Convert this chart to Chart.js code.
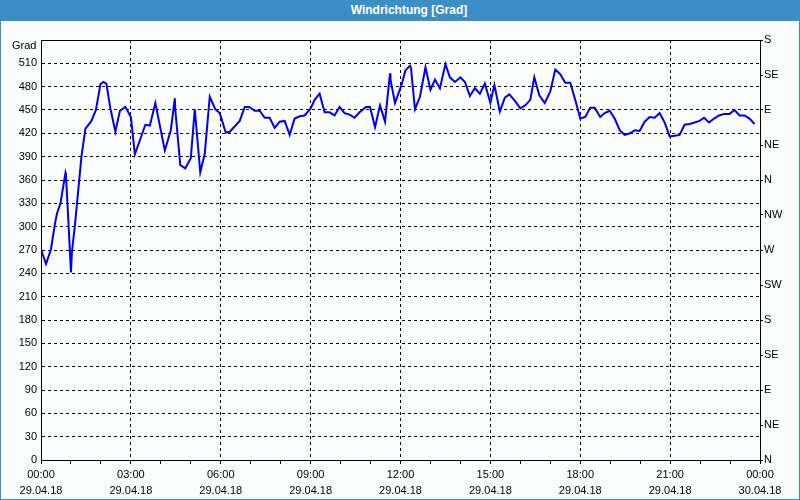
<!DOCTYPE html>
<html>
<head>
<meta charset="utf-8">
<script src="https://cdn.jsdelivr.net/npm/chart.js@4/dist/chart.umd.min.js"></script>
<style>
  html, body { margin: 0; padding: 0; background: #fbfdfc; }
  #wrap { position: relative; width: 800px; height: 500px; background: #fbfdfc; overflow: hidden; }
  #c { position: absolute; left: 0; top: 0; }
  #titlebar { position: absolute; left: 0; top: 0; width: 800px; height: 21px; background: #3c8fc6; }
  #title { position: absolute; left: 0; width: 818px; top: 3px; text-align: center; color: #fff;
           font: bold 12px "Liberation Sans", Arial, sans-serif; }
  #unit { position: absolute; left: 12px; top: 39px; color: #000; font: 11px "Liberation Sans", Arial, sans-serif; }
  #frame { position: absolute; left: 0; top: 0; width: 800px; height: 500px; box-sizing: border-box;
           border: 1px solid #3c8fc6; pointer-events: none; }
</style>
</head>
<body>
<div id="wrap">
  <canvas id="c" width="800" height="500"></canvas>
  <div id="titlebar"></div>
  <div id="title">Windrichtung [Grad]</div>
  <div id="unit">Grad</div>
  <div id="frame"></div>
</div>
<script>
// time of each reading, minutes after 29.04.18 00:00
const minutes = [0,10,20,28,32,39,49,50,56,60,62,68,76,81,89,101,110,119,125,131,139,149,158,169,180,188,209,218,229,248,260,268,269,279,289,300,308,319,328,338,349,358,370,378,398,408,417,428,438,448,458,468,478,488,498,508,518,528,540,548,558,568,578,588,598,608,618,628,638,651,659,669,679,689,699,700,709,718,723,730,739,741,749,759,770,780,789,799,810,819,829,840,849,859,869,879,889,900,908,919,929,938,950,960,970,980,988,998,1009,1020,1030,1040,1050,1060,1070,1080,1090,1100,1109,1120,1129,1139,1149,1159,1169,1180,1189,1199,1209,1219,1229,1239,1249,1259,1269,1279,1289,1299,1309,1319,1328,1338,1348,1358,1368,1379,1389,1399,1409,1419,1429];
// wind direction in degrees (continuous, > 360 wraps)
const windDir = [271,252,271,304,317,330,369,366,293,241,268,302,356,390,426,436,450,483,486,484,452,422,449,454,441,393,431,430,459,398,424,465,450,379,375,388,451,370,394,467,451,446,421,422,436,454,454,449,449,440,440,427,435,436,418,439,442,443,452,463,471,447,447,443,454,446,444,440,447,454,454,428,456,435,497,489,459,475,484,501,507,504,451,467,505,476,489,478,509,492,486,492,486,468,478,471,484,459,482,448,466,470,461,452,456,463,492,469,459,474,502,496,485,485,463,439,441,453,453,441,446,449,439,424,418,420,424,423,435,441,440,446,434,416,417,418,431,432,434,436,440,434,439,443,445,445,450,443,443,439,432];

const xTickTimes = ['00:00','03:00','06:00','09:00','12:00','15:00','18:00','21:00','00:00'];
const xTickDates = ['29.04.18','29.04.18','29.04.18','29.04.18','29.04.18','29.04.18','29.04.18','29.04.18','30.04.18'];
const compassLabels = ['N','NE','E','SE','S','SW','W','NW','N','NE','E','SE','S'];

const FONT = { family: '"Liberation Sans", Arial, sans-serif', size: 11 };

const framePlugin = {
  id: 'frame',
  afterDraw(chart) {
    const a = chart.chartArea, ctx = chart.ctx;
    ctx.save();
    ctx.strokeStyle = '#000';
    ctx.lineWidth = 1;
    ctx.setLineDash([]);
    ctx.beginPath();
    ctx.moveTo(Math.round(a.left) + 0.5, Math.round(a.top) + 0.5);
    ctx.lineTo(Math.round(a.right) + 0.5, Math.round(a.top) + 0.5);
    ctx.stroke();
    ctx.restore();
  }
};

new Chart(document.getElementById('c'), {
  type: 'line',
  data: {
    datasets: [{
      data: minutes.map((m, i) => ({ x: m, y: windDir[i] })),
      borderColor: '#0000f0',
      borderWidth: 2,
      pointRadius: 0,
      tension: 0,
      fill: false,
      yAxisID: 'y'
    }]
  },
  options: {
    responsive: false,
    animation: false,
    layout: { padding: { top: 40, left: 0, right: 0, bottom: 0 } },
    plugins: { legend: { display: false }, tooltip: { enabled: false }, title: { display: false } },
    scales: {
      x: {
        type: 'linear', position: 'bottom', min: 0, max: 1440,
        afterBuildTicks: s => { s.ticks = []; for (let v = 0; v <= 1440; v += 60) s.ticks.push({ value: v }); },
        ticks: {
          autoSkip: false, maxRotation: 0, color: '#000', font: { ...FONT, lineHeight: 1.45 }, padding: 3,
          callback: v => (v % 180 === 0) ? [xTickTimes[v / 180], xTickDates[v / 180]] : ''
        },
        grid: {
          color: ctx => (ctx.tick && ctx.tick.value % 180 === 0 && ctx.tick.value > 0 && ctx.tick.value < 1440) ? '#000' : 'rgba(0,0,0,0)',
          tickColor: '#000', tickLength: 4, tickBorderDash: [], lineWidth: 1
        },
        border: { display: true, color: '#000', dash: [3, 3] },
        afterFit: s => { s.height = 40; }
      },
      y: {
        position: 'left', min: 0, max: 540,
        ticks: { stepSize: 30, color: '#000', font: FONT, padding: 4, callback: v => v === 540 ? '' : v },
        grid: { color: '#000', drawTicks: false, lineWidth: 1 },
        border: { display: true, color: '#000', dash: [3, 3] },
        afterFit: s => { s.width = 41; }
      },
      y2: {
        position: 'right', min: 0, max: 540,
        ticks: { stepSize: 45, color: '#000', font: FONT, padding: 1, callback: v => compassLabels[Math.round(v / 45)] },
        grid: { drawOnChartArea: false, tickLength: 3, tickColor: '#000' },
        border: { display: true, color: '#000' },
        afterFit: s => { s.width = 40; }
      }
    }
  },
  plugins: [framePlugin]
});
</script>
</body>
</html>
